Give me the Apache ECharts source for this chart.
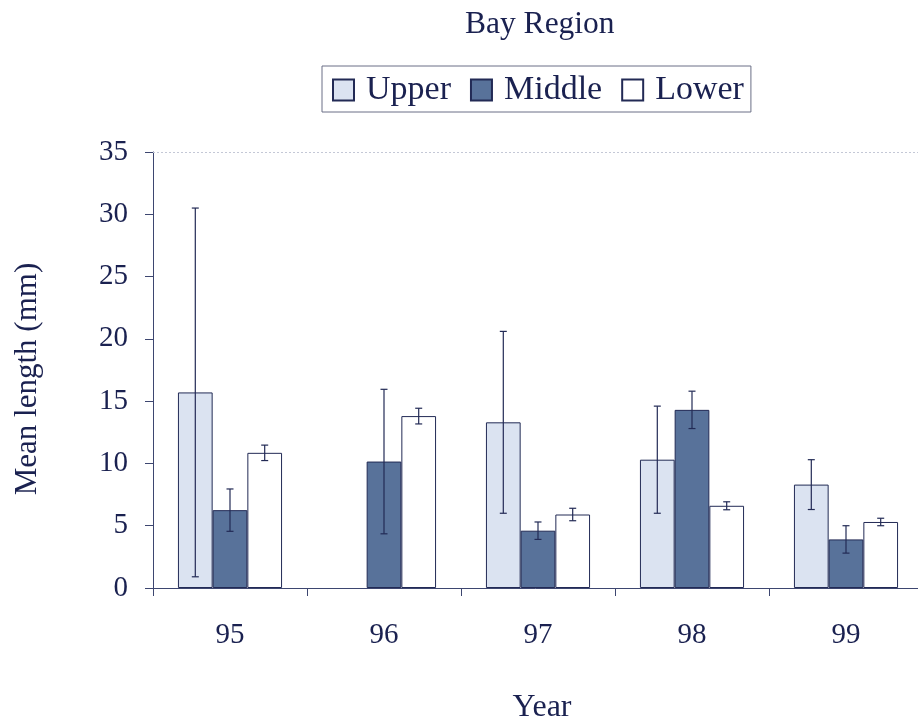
<!DOCTYPE html>
<html>
<head>
<meta charset="utf-8">
<script src="https://cdn.jsdelivr.net/npm/echarts@6/dist/echarts.min.js"></script>
<style>
  html, body { margin: 0; padding: 0; background: #ffffff; }
  #chart { width: 918px; height: 720px; }
</style>
</head>
<body>
<div id="chart"></div>
<script>
// Sampling years and per-region mean lengths (mm) with error half-widths
const years = ['95', '96', '97', '98', '99'];
const seriesNames = ['Upper', 'Middle', 'Lower'];
const upperMean = [15.7, null, 13.3, 10.3, 8.3];
const middleMean = [6.25, 10.15, 4.6, 14.3, 3.9];
const lowerMean = [10.85, 13.8, 5.9, 6.6, 5.3];
const upperErr = [14.8, null, 7.3, 4.3, 2.0];
const middleErr = [1.7, 5.8, 0.7, 1.5, 1.1];
const lowerErr = [0.62, 0.63, 0.5, 0.32, 0.3];
const yMin = 0, yMax = 35, yStep = 5;

const means = [upperMean, middleMean, lowerMean];
const errs = [upperErr, middleErr, lowerErr];
const fills = ['#dbe3f1', '#58729a', '#ffffff'];

const FONT = '"Liberation Serif", "Times New Roman", serif';
const INK = '#1a2150';
const EDGE = '#222a55';
const BAR_W = 34.7;

const barSeries = seriesNames.map((name, i) => ({
  name: name,
  type: 'bar',
  barWidth: BAR_W,
  barGap: '0%',
  data: means[i].map(v => (v === null ? '-' : v)),
  itemStyle: { color: fills[i], borderColor: EDGE, borderWidth: 1 },
  z: 2
}));

// dotted reference line along the top of the value range
barSeries[0].markLine = {
  silent: true,
  symbol: 'none',
  label: { show: false },
  lineStyle: { color: '#c4c8d6', type: [2, 2], width: 1 },
  data: [{ yAxis: yMax }]
};

// error bars drawn from the same means and half-widths
const errorSeries = seriesNames.map((name, i) => ({
  type: 'custom',
  name: name + ' error',
  z: 5,
  silent: true,
  data: years.map((y, k) => (means[i][k] === null ? null :
    [k, means[i][k] - errs[i][k], means[i][k] + errs[i][k]])).filter(d => d),
  encode: { x: 0, y: [1, 2] },
  renderItem: function (params, api) {
    const cat = api.value(0);
    const lo = api.coord([cat, api.value(1)]);
    const hi = api.coord([cat, api.value(2)]);
    const x = lo[0] + (i - 1) * BAR_W;
    const cap = 3.5;
    const st = { stroke: EDGE, lineWidth: 1.2 };
    return {
      type: 'group',
      children: [
        { type: 'line', shape: { x1: x, y1: hi[1], x2: x, y2: lo[1] }, style: st },
        { type: 'line', shape: { x1: x - cap, y1: hi[1], x2: x + cap, y2: hi[1] }, style: st },
        { type: 'line', shape: { x1: x - cap, y1: lo[1], x2: x + cap, y2: lo[1] }, style: st }
      ]
    };
  }
}));

const chart = echarts.init(document.getElementById('chart'));
chart.setOption({
  animation: false,
  backgroundColor: '#ffffff',
  textStyle: { fontFamily: FONT, color: INK },
  title: {
    text: 'Bay Region',
    left: 460,
    top: 4,
    textStyle: { fontFamily: FONT, fontWeight: 'normal', fontSize: 31.5, color: INK }
  },
  legend: {
    data: seriesNames,
    left: 322,
    top: 66,
    padding: [7, 7, 5, 10],
    borderColor: '#6a6f86',
    borderWidth: 1,
    itemWidth: 21,
    itemHeight: 21,
    itemGap: 19,
    icon: 'rect',
    textStyle: { fontFamily: FONT, fontSize: 34, color: INK, padding: [0, 0, 0, 7] }
  },
  grid: {
    left: 153, top: 152, width: 770, height: 436,
    containLabel: false, outerBoundsMode: 'none'
  },
  xAxis: {
    type: 'category',
    data: years,
    name: 'Year',
    nameLocation: 'middle',
    nameGap: 104,
    nameTextStyle: { fontFamily: FONT, fontSize: 32, color: INK, padding: [0, 0, 0, 8] },
    axisLine: { lineStyle: { color: '#3d4670', width: 1 } },
    axisTick: { show: true, length: 8, lineStyle: { color: '#3d4670' } },
    axisLabel: { fontFamily: FONT, fontSize: 29, color: INK, margin: 33 }
  },
  yAxis: {
    type: 'value',
    min: yMin,
    max: yMax,
    interval: yStep,
    name: 'Mean length (mm)',
    nameLocation: 'middle',
    nameGap: 110,
    nameTextStyle: { fontFamily: FONT, fontSize: 31, color: INK, padding: [0, 18, 0, 0] },
    axisLine: { show: true, lineStyle: { color: '#3d4670', width: 1 } },
    axisTick: { show: true, length: 8, lineStyle: { color: '#3d4670' } },
    splitLine: { show: false },
    axisLabel: { fontFamily: FONT, fontSize: 29, color: INK, margin: 25 }
  },
  series: barSeries.concat(errorSeries)
});
</script>
</body>
</html>
